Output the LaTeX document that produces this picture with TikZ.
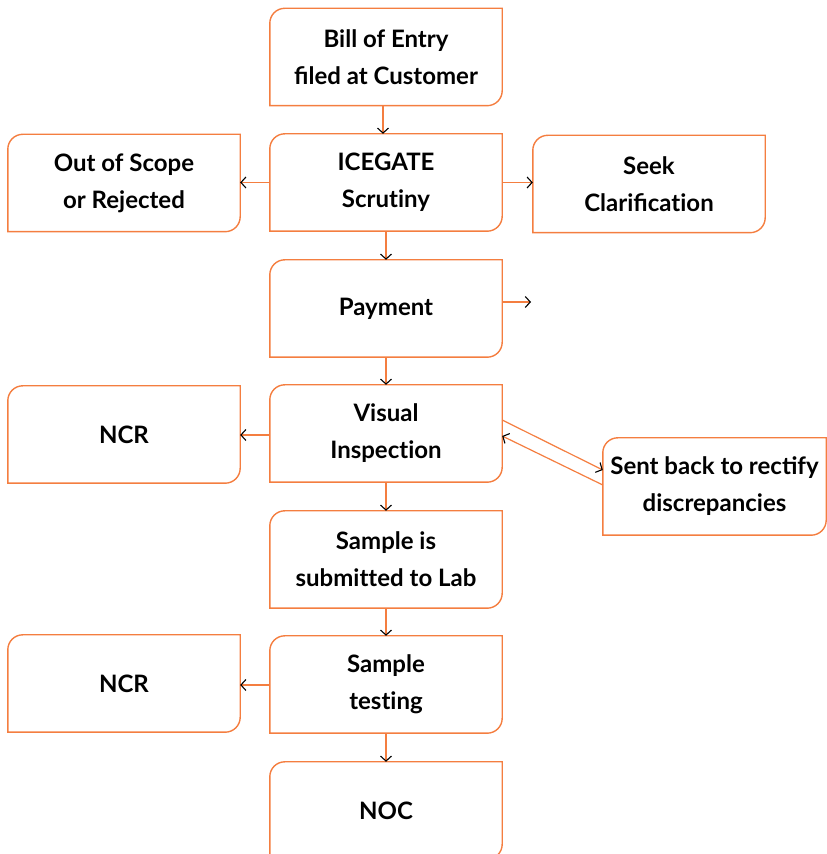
\documentclass[tikz,border=0pt]{standalone}
\usepackage{fontspec}
\setmainfont{Lato}
\usetikzlibrary{arrows.meta}
\definecolor{org}{RGB}{244,126,64}
\newcommand\tbrk{t\kern0pt}
\tikzset{
  x=1pt,y=1pt,
  box/.style={minimum width=232pt, minimum height=97pt, inner sep=0pt, align=center,
    font=\fontsize{24}{37}\selectfont\bfseries, text=black},
  arr/.style={draw=org, line width=1.2pt, -{Straight Barb[length=5pt,width=11pt,black,line width=1.1pt]}},
  outl/.style={draw=org, line width=1.4pt}
}
\newcommand\outline[1]{%
  \draw[outl] (#1.south west) -- ([yshift=-15pt]#1.north west) arc[start angle=180,end angle=90,radius=15pt]
    -- (#1.north east) -- ([yshift=15pt]#1.south east) arc[start angle=0,end angle=-90,radius=15pt] -- cycle;}
\begin{document}
\begin{tikzpicture}
\useasboundingbox (0,0) rectangle (827,854);
\node[box] (b1) at (386,797) {Bill of Entry\\filed at Customer};
\node[box] (ice) at (386,671.5) {ICEGATE\\Scru\tbrk iny};
\node[box] (out) at (124,671) {Out of Scope\\or Rejected};
\node[box] (seek) at (649,670) {Seek\\Clarifica\tbrk ion};
\node[box] (pay) at (386,545.5) {Payment};
\node[box] (vis) at (386,420.5) {Visual\\Inspec\tbrk ion};
\node[box] (ncra) at (124,419.5) {NCR};
\node[box, minimum width=223pt] (sent) at (714.5,367.5) {Sent back to rectify\\discrepancies};
\node[box] (sub) at (386,294.5) {Sample is\\submi\tbrk\tbrk ed to Lab};
\node[box] (test) at (386,169.5) {Sample\\tes\tbrk ing};
\node[box] (ncrb) at (124,170.5) {NCR};
\node[box] (noc) at (386,43.5) {NOC};
\foreach \n in {b1,ice,out,seek,pay,vis,ncra,sent,sub,test,ncrb,noc} {\outline{\n}}
\coordinate (payend) at (531,552);
\draw[arr] ([xshift=-3pt]b1.south) -- ([xshift=-3pt]ice.north);
\draw[arr] (ice.south) -- (pay.north);
\draw[arr] (pay.south) -- (vis.north);
\draw[arr] (vis.south) -- (sub.north);
\draw[arr] (sub.south) -- (test.north);
\draw[arr] (test.south) -- (noc.north);
\draw[arr] (ice.west) -- ([yshift=0.5pt]out.east);
\draw[arr] (ice.east) -- ([yshift=1.5pt]seek.west);
\draw[arr] (pay.east |- payend) -- (payend);
\draw[arr] ([yshift=-1.5pt]vis.west) -- ([yshift=-0.5pt]ncra.east);
\draw[arr] ([yshift=-0.5pt]test.west) -- ([yshift=-1.5pt]ncrb.east);
\draw[arr] ([yshift=13.5pt]vis.east) -- ([yshift=16.5pt]sent.west);
\draw[arr] ([yshift=1.5pt]sent.west) -- ([yshift=-2.5pt]vis.east);
\end{tikzpicture}
\end{document}
